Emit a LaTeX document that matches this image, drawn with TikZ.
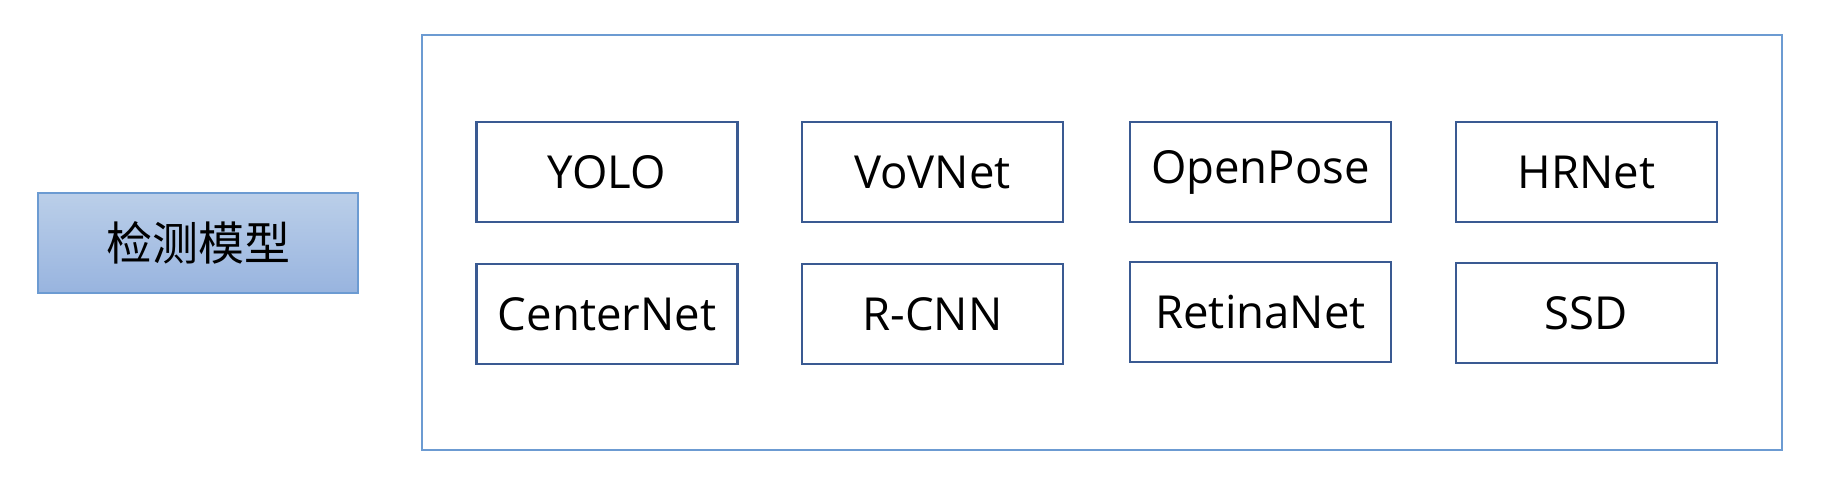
\documentclass[tikz,border=0pt]{standalone}
\usepackage{fontspec}
\setmainfont{Open Sans}
\newfontfamily\cjk{Noto Sans CJK SC}
\definecolor{frameblue}{HTML}{6C9BD2}
\definecolor{boxblue}{HTML}{3A5A92}
\definecolor{topfill}{HTML}{BBCFE9}
\definecolor{botfill}{HTML}{98B4DF}
\begin{document}
\begin{tikzpicture}[x=1pt,y=-1pt,
  model/.style={draw=boxblue, line width=2.8pt, fill=white, minimum width=261pt, minimum height=100pt, inner sep=0pt, font=\fontsize{45.5}{50}\selectfont},
  frame/.style={draw=frameblue, line width=2.4pt, minimum width=1360pt, minimum height=415pt, inner sep=0pt},
  root/.style={draw=frameblue, line width=1.8pt, top color=topfill, bottom color=botfill, minimum width=320pt, minimum height=100pt, inner sep=0pt, font=\cjk\fontsize{46}{50}\selectfont}]
\useasboundingbox (0,0) rectangle (1844,482);
\node[root] (root) at (198,243) {检测模型};
\node[frame] (frame) at (1102,242.5) {};
\node[model] (yolo) at (607,172) {YOLO};
\node[model] (vovnet) at (932.5,172) {VoVNet};
\node[model] (openpose) at (1260.5,172) {OpenPose};
\node[model] (hrnet) at (1586.5,172) {HRNet};
\node[model] (centernet) at (607,314) {CenterNet};
\node[model] (rcnn) at (932.5,314) {R-CNN};
\node[model] (retinanet) at (1260.5,312) {RetinaNet};
\node[model] (ssd) at (1586.5,313) {SSD};
\end{tikzpicture}
\end{document}
